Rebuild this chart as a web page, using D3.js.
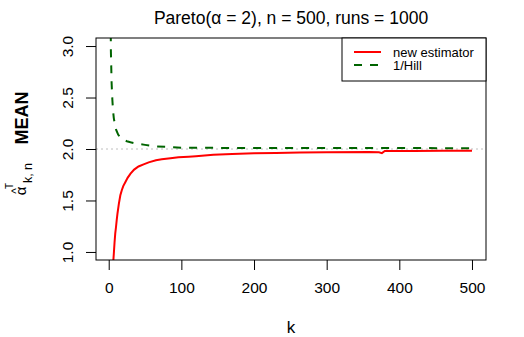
<!DOCTYPE html>
<html>
<head>
<meta charset="utf-8">
<script src="https://cdn.jsdelivr.net/npm/d3@7"></script>
<style>
  body { margin: 0; background: #fff; }
  svg { display: block; font-family: "Liberation Sans", Arial, sans-serif; }
</style>
</head>
<body>
<div id="chart"></div>
<script>
// mean of the two estimators over k
const kNew = [6, 7, 8, 9, 10, 11, 12, 14, 16, 18, 20, 23, 26, 30, 35, 41, 48, 55, 65, 73, 85, 96, 110, 120, 144, 170, 200, 230, 263, 300, 358, 372, 376, 380, 420, 460, 500];
const meanNew = [0.88, 0.98, 1.09, 1.18, 1.24, 1.31, 1.37, 1.47, 1.55, 1.60, 1.64, 1.68, 1.72, 1.76, 1.80, 1.83, 1.85, 1.87, 1.89, 1.90, 1.91, 1.92, 1.925, 1.93, 1.945, 1.952, 1.958, 1.962, 1.966, 1.968, 1.97, 1.968, 1.96, 1.98, 1.981, 1.982, 1.983];

const kHill = [2, 3, 4, 5, 6, 7, 8, 10, 13, 16, 20, 25, 30, 40, 50, 65, 80, 100, 150, 200, 300, 400, 500];
const meanHill = [3.9, 2.95, 2.64, 2.48, 2.37, 2.30, 2.26, 2.19, 2.14, 2.11, 2.09, 2.075, 2.065, 2.05, 2.04, 2.025, 2.02, 2.013, 2.011, 2.01, 2.009, 2.009, 2.008];

const xTicks = [0, 100, 200, 300, 400, 500];
const yTicks = [1.0, 1.5, 2.0, 2.5, 3.0];
const legendLabels = ["new estimator", "1/Hill"];

const width = 524;
const height = 337;
const mLeft = 96, mRight = 486, mTop = 38, mBottom = 260;

const svg = d3.select("#chart")
  .append("svg")
  .attr("width", width)
  .attr("height", height);

const x = d3.scaleLinear().domain([-17.5, 519.3]).range([mLeft, mRight]);
const y = d3.scaleLinear().domain([0.922, 3.078]).range([mBottom, mTop]);

svg.append("clipPath")
  .attr("id", "plotclip")
  .append("rect")
  .attr("x", mLeft)
  .attr("y", mTop)
  .attr("width", mRight - mLeft)
  .attr("height", mBottom - mTop);

// x axis
const xAxis = svg.append("g")
  .attr("transform", "translate(0," + mBottom + ")")
  .call(d3.axisBottom(x).tickValues(xTicks).tickSize(10).tickPadding(12).tickFormat(d3.format("d")));
xAxis.select(".domain").remove();
xAxis.selectAll("line").attr("stroke", "#000");
xAxis.selectAll("text")
  .attr("font-size", "15.5px")
  .attr("font-family", "Liberation Sans, Arial, sans-serif")
  .attr("fill", "#000");

// y axis, labels turned like R does
const yAxis = svg.append("g")
  .attr("transform", "translate(" + mLeft + ",0)")
  .call(d3.axisLeft(y).tickValues(yTicks).tickSize(10).tickFormat(d3.format(".1f")));
yAxis.select(".domain").remove();
yAxis.selectAll("line").attr("stroke", "#000");
yAxis.selectAll("text")
  .attr("font-size", "15.5px")
  .attr("font-family", "Liberation Sans, Arial, sans-serif")
  .attr("fill", "#000")
  .attr("text-anchor", "middle")
  .attr("dy", null)
  .attr("x", null)
  .attr("transform", "translate(-23,0) rotate(-90)");

// reference line at alpha = 2
svg.append("line")
  .attr("x1", mLeft)
  .attr("x2", mRight)
  .attr("y1", y(2))
  .attr("y2", y(2))
  .attr("stroke", "#bebebe")
  .attr("stroke-width", 1)
  .attr("stroke-dasharray", "2,3");

const line = d3.line()
  .x(function(d) { return x(d[0]); })
  .y(function(d) { return y(d[1]); });

const plot = svg.append("g").attr("clip-path", "url(#plotclip)");

plot.append("path")
  .datum(d3.zip(kHill, meanHill))
  .attr("d", line)
  .attr("fill", "none")
  .attr("stroke", "#006400")
  .attr("stroke-width", 2)
  .attr("stroke-dasharray", "8,8");

plot.append("path")
  .datum(d3.zip(kNew, meanNew))
  .attr("d", line)
  .attr("fill", "none")
  .attr("stroke", "#ff0000")
  .attr("stroke-width", 2);

// box
svg.append("rect")
  .attr("x", mLeft)
  .attr("y", mTop)
  .attr("width", mRight - mLeft)
  .attr("height", mBottom - mTop)
  .attr("fill", "none")
  .attr("stroke", "#000");

// title
svg.append("text")
  .attr("x", (mLeft + mRight) / 2)
  .attr("y", 24)
  .attr("text-anchor", "middle")
  .attr("font-size", "17.5px")
  .text("Pareto(\u03b1 = 2), n = 500, runs = 1000");

// x label
svg.append("text")
  .attr("x", (mLeft + mRight) / 2)
  .attr("y", 333)
  .attr("text-anchor", "middle")
  .attr("font-size", "17px")
  .text("k");

// y label: hat alpha ^T _(k,n)  MEAN
const ylab = svg.append("g");
ylab.append("text")
  .attr("transform", "translate(28,118) rotate(-90)")
  .attr("text-anchor", "middle")
  .attr("font-size", "18px")
  .attr("font-weight", "bold")
  .text("MEAN");
ylab.append("text")
  .attr("transform", "translate(26,191) rotate(-90)")
  .attr("text-anchor", "middle")
  .attr("font-size", "15px")
  .text("\u03b1");
ylab.append("text")
  .attr("transform", "translate(20,191) rotate(-90)")
  .attr("text-anchor", "middle")
  .attr("font-size", "12px")
  .text("^");
ylab.append("text")
  .attr("transform", "translate(12.5,186) rotate(-90)")
  .attr("text-anchor", "middle")
  .attr("font-size", "10px")
  .text("T");
ylab.append("text")
  .attr("transform", "translate(31.5,173) rotate(-90)")
  .attr("text-anchor", "middle")
  .attr("font-size", "12.5px")
  .text("k, n");

// legend
const legend = svg.append("g");
legend.append("rect")
  .attr("x", 342)
  .attr("y", mTop)
  .attr("width", mRight - 342)
  .attr("height", 43)
  .attr("fill", "#fff")
  .attr("stroke", "#000");

const legendColors = ["#ff0000", "#006400"];
const legendDash = [null, "8,8"];
legendLabels.forEach(function(label, i) {
  const ly = 52 + i * 13;
  legend.append("line")
    .attr("x1", 354)
    .attr("x2", 381)
    .attr("y1", ly)
    .attr("y2", ly)
    .attr("stroke", legendColors[i])
    .attr("stroke-width", 2)
    .attr("stroke-dasharray", legendDash[i]);
  legend.append("text")
    .attr("x", 393)
    .attr("y", ly + 5)
    .attr("font-size", "13px")
    .text(label);
});
</script>
</body>
</html>
